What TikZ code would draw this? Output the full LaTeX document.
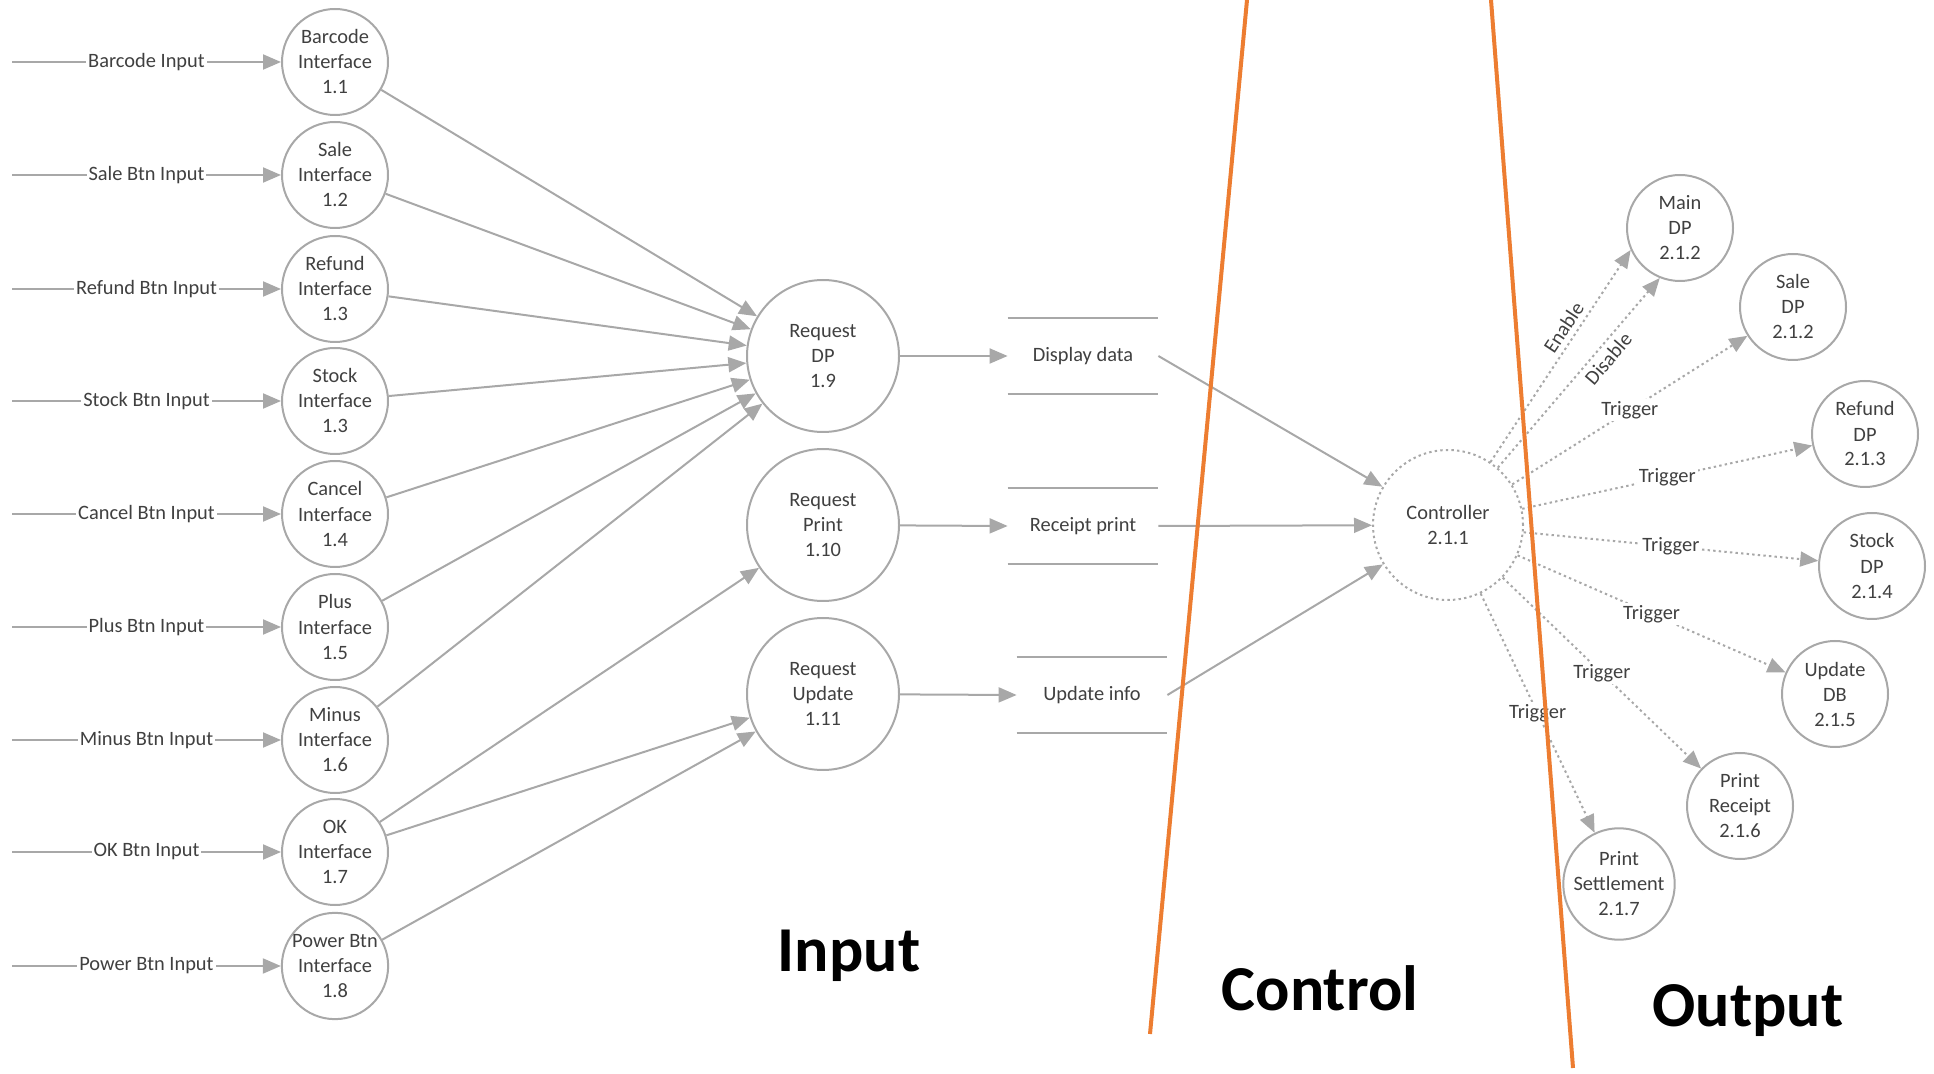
\documentclass[tikz,border=0pt]{standalone}
\usepackage{fontspec}
\setmainfont{Carlito}
\usetikzlibrary{arrows.meta}
\definecolor{linegray}{RGB}{168,168,168}
\definecolor{textgray}{RGB}{64,64,64}
\definecolor{sepor}{RGB}{237,125,49}
\begin{document}
\begin{tikzpicture}[x=0.5pt,y=-0.5pt,
  every node/.style={font=\fontsize{10.2}{12.5}\selectfont, text=textgray},
  proc/.style={circle,draw=linegray,line width=1pt,minimum size=53pt,inner sep=0pt,align=center},
  bigproc/.style={proc,minimum size=76pt},
  ctrlproc/.style={proc,minimum size=75pt,dash pattern=on 1.2pt off 1.6pt},
  flow/.style={draw=linegray,line width=1pt,-{Triangle[length=9pt,width=7.5pt]}},
  dflow/.style={flow,dash pattern=on 1.2pt off 1.6pt},
  plainline/.style={draw=linegray,line width=1pt},
  lbl/.style={fill=white,inner sep=1pt},
  slbl/.style={sloped,inner sep=2.5pt},
  store/.style={minimum width=75pt,minimum height=37.5pt,inner sep=0pt},
  big/.style={font=\fontsize{32}{38}\selectfont\bfseries,text=black},
  sep/.style={draw=sepor,line width=2pt}
]
\useasboundingbox (0,0) rectangle (1934,1074);

% interfaces
\node[proc] (i1) at (335,62)  {Barcode\\Interface\\1.1};
\node[proc] (i2) at (335,175) {Sale\\Interface\\1.2};
\node[proc] (i3) at (335,289) {Refund\\Interface\\1.3};
\node[proc] (i4) at (335,401) {Stock\\Interface\\1.3};
\node[proc] (i5) at (335,514) {Cancel\\Interface\\1.4};
\node[proc] (i6) at (335,627) {Plus\\Interface\\1.5};
\node[proc] (i7) at (335,740) {Minus\\Interface\\1.6};
\node[proc] (i8) at (335,852) {OK\\Interface\\1.7};
\node[proc] (i9) at (335,966) {Power Btn\\Interface\\1.8};

\coordinate (s1) at (12,62);
\coordinate (s2) at (12,175);
\coordinate (s3) at (12,289);
\coordinate (s4) at (12,401);
\coordinate (s5) at (12,514);
\coordinate (s6) at (12,627);
\coordinate (s7) at (12,740);
\coordinate (s8) at (12,852);
\coordinate (s9) at (12,966);

\draw[flow] (s1) -- node[lbl]{Barcode Input} (i1);
\draw[flow] (s2) -- node[lbl]{Sale Btn Input} (i2);
\draw[flow] (s3) -- node[lbl]{Refund Btn Input} (i3);
\draw[flow] (s4) -- node[lbl]{Stock Btn Input} (i4);
\draw[flow] (s5) -- node[lbl]{Cancel Btn Input} (i5);
\draw[flow] (s6) -- node[lbl]{Plus Btn Input} (i6);
\draw[flow] (s7) -- node[lbl]{Minus Btn Input} (i7);
\draw[flow] (s8) -- node[lbl]{OK Btn Input} (i8);
\draw[flow] (s9) -- node[lbl]{Power Btn Input} (i9);

% requests
\node[bigproc] (rdp) at (823,356) {Request\\DP\\1.9};
\node[bigproc] (rpr) at (823,525) {Request\\Print\\1.10};
\node[bigproc] (rup) at (823,694) {Request\\Update\\1.11};

\foreach \i in {i1,i2,i3,i4,i5,i6,i7} \draw[flow] (\i) -- (rdp);
\draw[flow] (i8) -- (rpr);
\draw[flow] (i8) -- (rup);
\draw[flow] (i9) -- (rup);

% data stores
\node[store] (dd) at (1083,356) {Display data};
\node[store] (rp) at (1083,526) {Receipt print};
\node[store] (ui) at (1092,695) {Update info};
\foreach \s in {dd,rp,ui}
  \draw[plainline] (\s.north west) -- (\s.north east) (\s.south west) -- (\s.south east);

\draw[flow] (rdp) -- (dd.west);
\draw[flow] (rpr) -- (rp.west);
\draw[flow] (rup) -- (ui.west);

% controller
\node[ctrlproc] (ctrl) at (1448,525) {Controller\\2.1.1};
\draw[flow] (dd.east) -- (ctrl);
\draw[flow] (rp.east) -- (ctrl);
\draw[flow] (ui.east) -- (ctrl);

% outputs
\node[proc] (mdp) at (1680,228) {Main\\DP\\2.1.2};
\node[proc] (sdp) at (1793,307) {Sale\\DP\\2.1.2};
\node[proc] (fdp) at (1865,434) {Refund\\DP\\2.1.3};
\node[proc] (kdp) at (1872,566) {Stock\\DP\\2.1.4};
\node[proc] (udb) at (1835,694) {Update\\DB\\2.1.5};
\node[proc] (prc) at (1740,806) {Print\\Receipt\\2.1.6};
\node[proc] (pst) at (1619,884) {Print\\Settlement\\2.1.7};

\draw[dflow] (ctrl.56) -- node[slbl,above,pos=0.6]{Enable} (mdp.204);
\draw[dflow] (ctrl.49) -- node[slbl,below,pos=0.62]{Disable} (mdp.248);
\draw[dflow] (ctrl) -- node[lbl]{Trigger} (sdp);
\draw[dflow] (ctrl) -- node[lbl]{Trigger} (fdp);
\draw[dflow] (ctrl) -- node[lbl]{Trigger} (kdp);
\draw[dflow] (ctrl) -- node[lbl]{Trigger} (udb);
\draw[dflow] (ctrl) -- node[lbl]{Trigger} (prc);
\draw[dflow] (ctrl) -- node[lbl]{Trigger} (pst);

% section labels
\node[big] (tin) at (849,956) {Input};
\node[big] (tctl) at (1320,988) {Control};
\node[big] (tout) at (1748,1011) {Output};

% separators
\draw[sep] (1247,0) -- (1150,1034);
\draw[sep] (1491,0) -- (1573,1068);
\end{tikzpicture}
\end{document}
